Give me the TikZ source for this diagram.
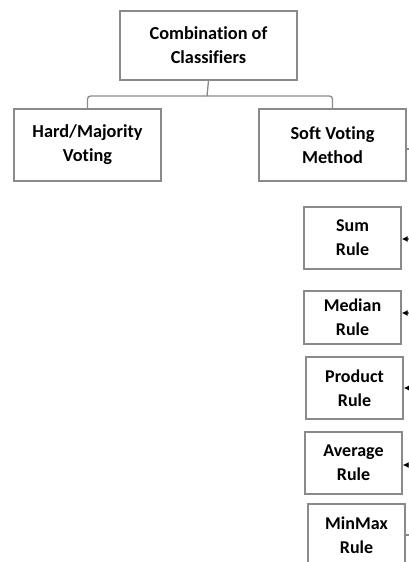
\documentclass[tikz,border=0pt]{standalone}
\usepackage{fontspec}
\setmainfont[Ligatures=NoCommon]{Carlito}
\usetikzlibrary{arrows.meta}
\definecolor{edge}{HTML}{8A8A8A}
\begin{document}
\begin{tikzpicture}[x=1pt,y=-1pt,
  box/.style={draw=edge,line width=1.3pt,rectangle,align=center,inner sep=0pt,
    font=\bfseries\fontsize{18.3}{24}\selectfont,text=black},
  rulebox/.style={box,minimum width=97pt,minimum height=62pt,font=\bfseries\fontsize{18}{24}\selectfont},
  link/.style={draw=edge,line width=1.3pt,rounded corners=3pt},
  feed/.style={draw=edge,line width=1.2pt,-{Latex[length=6pt,width=6pt,black]}}]
\useasboundingbox (0,0) rectangle (409,562);
\clip (0,0) rectangle (409,562);
\node[box,minimum width=177pt,minimum height=69pt] (top) at (208.5,45.5) {Combination of\\Classifiers};
\node[box,minimum width=147pt,minimum height=72pt] (hard) at (87.5,145) {Hard/Majority\\Voting};
\node[box,minimum width=147pt,minimum height=72pt] (soft) at (332.5,145) {Soft Voting\\Method};
\node[rulebox] (sum) at (352.5,238) {Sum\\Rule};
\node[rulebox,minimum height=53pt] (median) at (352.5,317.5) {Median\\Rule};
\node[rulebox] (product) at (354.5,388) {Product\\Rule};
\node[rulebox] (average) at (353.5,463) {Average\\Rule};
\node[rulebox] (minmax) at (356.5,535) {MinMax\\Rule};
% bracket
\coordinate (mid) at (207,96);
\draw[link] (top.south) -- (mid);
\draw[link] (mid) -| (hard.north);
\draw[link] (mid) -| (soft.north);
% right-edge connectors
\coordinate (s0) at (410,149);
\draw[draw=edge,line width=1.2pt] (soft.east |- s0) -- (s0);
\coordinate (e1) at (410,239);
\coordinate (e2) at (410,313);
\coordinate (e3) at (410,388);
\coordinate (e4) at (410,465);
\coordinate (e5) at (410,535);
\draw[feed] (e1) -- (sum.east |- e1);
\draw[feed] (e2) -- (median.east |- e2);
\draw[feed] (e3) -- (product.east |- e3);
\draw[feed] (e4) -- (average.east |- e4);
\draw[draw=edge,line width=1.2pt] (e5) -- (minmax.east |- e5);
\end{tikzpicture}
\end{document}
